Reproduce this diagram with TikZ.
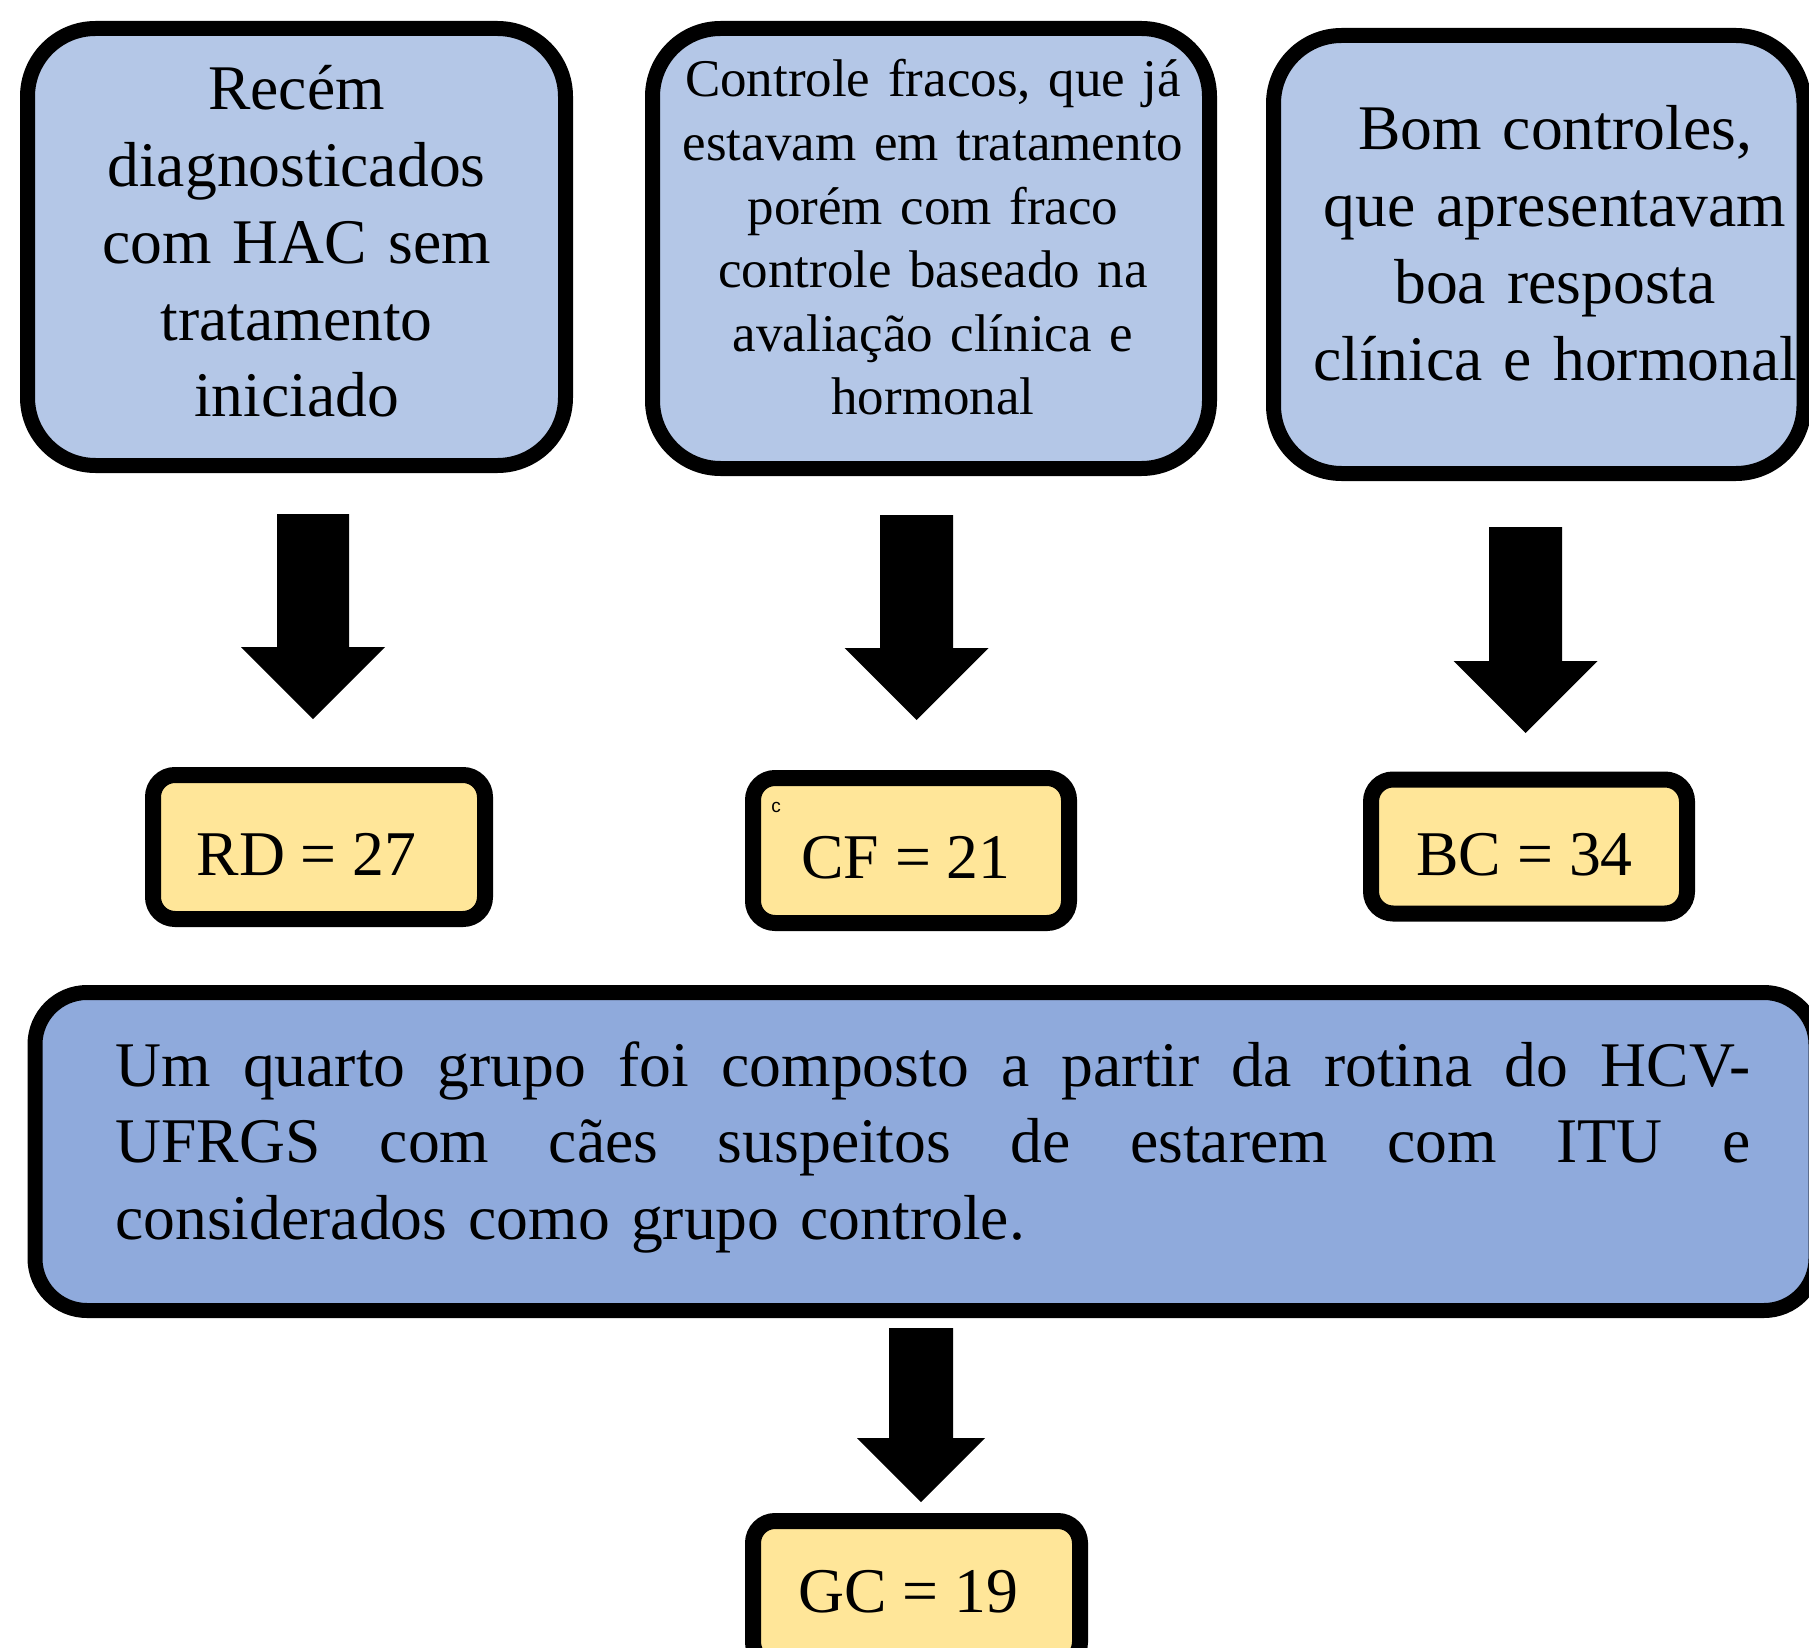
\documentclass[tikz,border=0pt]{standalone}
\usepackage{fontspec}
\setmainfont{Liberation Serif}
\setsansfont{Liberation Sans}
\definecolor{lightblue}{HTML}{B4C7E7}
\definecolor{midblue}{HTML}{8FAADC}
\definecolor{lightyellow}{HTML}{FFE699}
\newcommand{\numsize}{\fontsize{31.85pt}{38.35pt}\selectfont}
\newcommand{\bigfont}{\fontsize{31.8pt}{38.35pt}\selectfont\fontdimen2\font=0.19em\relax}
\newcommand{\midfont}{\fontsize{26.5pt}{31.8pt}\selectfont\fontdimen2\font=0.19em\relax}
\newcommand{\fullline}[1]{\leavevmode\hbox to 817.5pt{#1}}
\newcommand{\blockarrow}[6]{% x, shaft half, top, head base, head half, tip
  \fill[black] ({#1-#2},#3) -- ({#1+#2},#3) -- ({#1+#2},#4) -- ({#1+#5},#4)
    -- (#1,#6) -- ({#1-#5},#4) -- ({#1-#2},#4) -- cycle;}
\tikzset{
  bluebox/.style={draw=black, line width=7.5pt, fill=lightblue, rounded corners=34pt, inner sep=0pt},
  groupbox/.style={draw=black, line width=7.5pt, fill=midblue, rounded corners=26pt, inner sep=0pt},
  yellowbox/.style={draw=black, line width=8pt, fill=lightyellow, rounded corners=11pt, inner sep=0pt},
  blocktext/.style={anchor=base, inner sep=0pt, text width=300pt, align=center},
  numtext/.style={anchor=base, inner sep=0pt, font=\numsize}
}
\begin{document}
\begin{tikzpicture}[x=0.5pt, y=-0.5pt]
\fill[white] (0,0) rectangle (1809,1648);
\useasboundingbox (0,0) rectangle (1809,1648);

% top boxes
\node[bluebox, minimum width=269pt, minimum height=218.5pt] (b1) at (296.5,247) {};
\node[bluebox, minimum width=278.5pt, minimum height=220pt] (b2) at (931,248.5) {};
\node[bluebox, minimum width=265.25pt, minimum height=219pt] (b3) at (1538.75,254.5) {};

\node[blocktext, font=\bigfont] (t1) at (296.5,110)
  {Recém\\diagnosticados\\com HAC sem\\tratamento\\iniciado};
\node[blocktext, font=\midfont] (t2) at (933,97)
  {Controle fracos, que já\\estavam em tratamento\\porém com fraco\\controle baseado na\\avaliação clínica e\\hormonal};
\node[blocktext, font=\bigfont] (t3) at (1555,150)
  {Bom controles,\\que apresentavam\\boa resposta\\clínica e hormonal};

% arrows
\blockarrow{313}{36}{514}{647}{72}{719}
\blockarrow{916.5}{36.5}{515}{648}{72}{720}
\blockarrow{1525.5}{36.5}{527}{661}{72}{733}

% count boxes
\node[yellowbox, minimum width=166pt, minimum height=72pt] (rd) at (319,847) {};
\node[yellowbox, minimum width=158pt, minimum height=72.5pt] (cf) at (911,850.5) {};
\node[yellowbox, minimum width=158pt, minimum height=67pt] (bc) at (1529,846.5) {};
\node[numtext] (trd) at (306.5,875) {RD = 27};
\node[numtext] (tcf) at (906,878) {CF = 21};
\node[numtext] (tbc) at (1524.5,875) {BC = 34};
\node[anchor=base, inner sep=0pt, font=\sffamily\fontsize{9.5pt}{11pt}\selectfont] (cmark) at (776,812) {c};

% fourth group
\node[groupbox, minimum width=890.5pt, minimum height=159pt] (b4) at (925.5,1151.5) {};
\node[anchor=base west, inner sep=0pt, text width=817.5pt, align=left, font=\bigfont] (t4) at (115,1086)
  {\fullline{Um\hfill quarto\hfill grupo\hfill foi\hfill composto\hfill a\hfill partir\hfill da\hfill rotina\hfill do\hfill HCV-}\\
   \fullline{UFRGS\hfill com\hfill cães\hfill suspeitos\hfill de\hfill estarem\hfill com\hfill ITU\hfill e}\\
   considerados como grupo controle.};

\blockarrow{921}{32}{1328}{1438}{64}{1502}

\node[yellowbox, minimum width=163.5pt, minimum height=71.5pt] (gc) at (916.5,1592.5) {};
\node[numtext] (tgc) at (908.5,1612) {GC = 19};
\end{tikzpicture}
\end{document}
